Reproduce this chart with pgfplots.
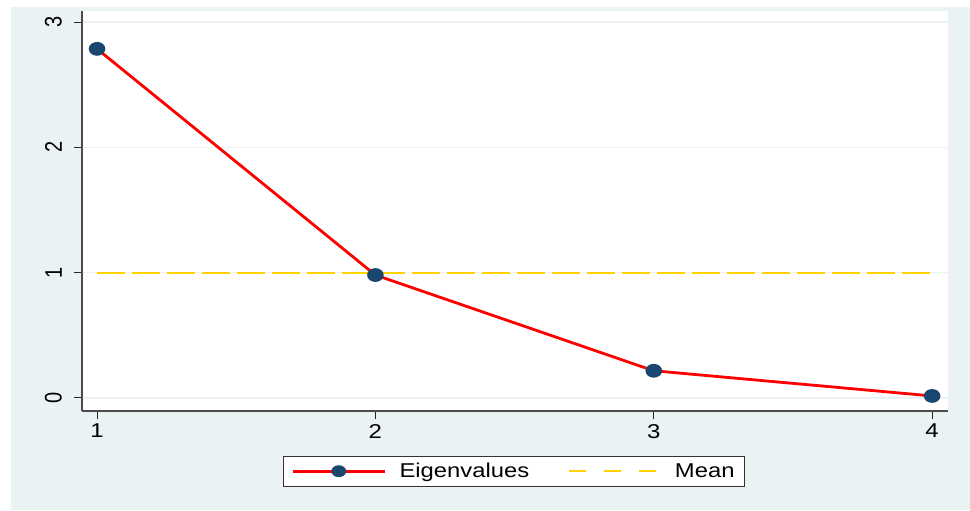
\documentclass[border=0pt]{standalone}
\usepackage{pgfplots}
\pgfplotsset{compat=1.18}
\usepackage{fontspec}
\setmainfont{Liberation Sans}
\definecolor{bgc}{HTML}{EAF2F3}
\definecolor{navy}{HTML}{1A476F}
\definecolor{gold}{HTML}{FFD200}
\begin{document}
\begin{tikzpicture}[x=1pt,y=1pt]
\fill[white] (0,0) rectangle (970,511);
\fill[bgc] (11,1) rectangle (970,504);
\begin{axis}[at={(82pt,100pt)}, anchor=south west, scale only axis,
  width=866pt, height=400pt,
  xmin=0.946, xmax=4.057, ymin=-0.104, ymax=3.088,
  axis x line*=bottom, axis y line*=left,
  axis line style={draw=black!70, line width=1.2pt},
  axis background/.style={fill=white},
  xtick={1,2,3,4}, ytick={0,1,2,3},
  tick align=outside, major tick length=8pt,
  tick style={draw=black!85, line width=1pt},
  ymajorgrids, grid style={draw=bgc, line width=1.5pt},
  /pgf/number format/assume math mode=true,
  tick label style={font=\fontsize{20}{24}\selectfont},
  yticklabel style={rotate=90, yscale=1.2, anchor=south, inner sep=0pt, yshift=10pt},
  xticklabel style={xscale=1.2, inner sep=0pt, yshift=-5pt},
  legend columns=2,
  legend style={at={(0.499,-0.112)}, anchor=north, draw=black!80, line width=0.8pt,
    fill=white, font=\fontsize{20}{24}\selectfont, inner xsep=8pt, inner ysep=5pt,
    nodes={inner sep=2pt, xscale=1.19},
    /tikz/every odd column/.append style={column sep=11pt},
    /tikz/every even column/.append style={column sep=36pt}},
  legend cell align=left,
]
\addlegendimage{legend image code/.code={\draw[red,line width=2.8pt] (0pt,0pt) -- (92pt,0pt); \fill[navy] (46pt,0pt) ellipse (7pt and 5.5pt);}}
\addlegendentry{Eigenvalues}
\addlegendimage{legend image code/.code={\draw[gold,line width=2pt,dash pattern=on 17pt off 18pt] (0pt,0pt) -- (92pt,0pt);}}
\addlegendentry{Mean}
\addplot[gold, line width=2pt, dash pattern=on 28pt off 7pt, forget plot] coordinates {(1,1) (4,1)};
\addplot[red, line width=2.8pt, mark=*, mark size=5.5pt,
  mark options={fill=navy, draw=navy, xscale=1.25}, forget plot]
  coordinates {(1,2.786) (2,0.981) (3,0.217) (4,0.016)};
\end{axis}
\end{tikzpicture}
\end{document}
